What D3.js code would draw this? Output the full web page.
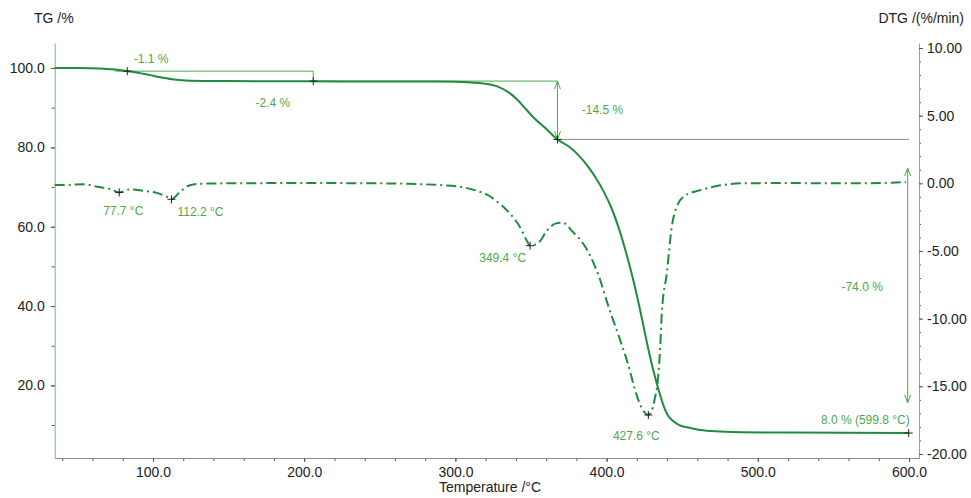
<!DOCTYPE html>
<html>
<head>
<meta charset="utf-8">
<script src="https://cdn.jsdelivr.net/npm/d3@7"></script>
<style>
  body { margin: 0; background: #fff; }
  svg { font-family: "Liberation Sans", Arial, sans-serif; }
  .tick text { fill: #222; font-size: 14px; }
  .tick line { stroke: #555; }
</style>
</head>
<body>
<div id="chart"></div>
<script>
// TG curve, temperature (°C) and mass (%)
const tgTemp = [35, 50, 65, 75, 83, 90, 98, 106, 114, 124, 150, 200, 250, 300, 312, 320, 328, 335, 341, 346, 352, 360, 367.5, 375, 382, 388, 393, 398, 403, 408, 413, 418, 423, 427, 431, 434, 437, 440, 444, 448, 455, 462, 475, 490, 520, 560, 600];
const tgMass = [100.0, 100.0, 99.9, 99.6, 99.2, 98.8, 98.2, 97.6, 97.1, 96.8, 96.7, 96.65, 96.6, 96.55, 96.3, 96.0, 95.3, 93.9, 92.0, 89.9, 87.4, 84.7, 82.0, 80.2, 77.8, 75.0, 72.2, 68.9, 64.9, 59.7, 53.3, 46.0, 37.5, 30.2, 23.6, 19.4, 15.6, 12.8, 11.0, 10.0, 9.3, 8.75, 8.4, 8.2, 8.1, 8.05, 8.0];

// DTG curve, temperature (°C) and rate (%/min)
const dtgTemp = [35, 40, 55, 63, 71.5, 77.7, 85, 93.5, 102, 109, 112.2, 118, 123, 131, 150, 200, 250, 290, 303, 316, 322, 327, 336, 342.6, 347, 349.4, 355.6, 360, 366.6, 371, 377.6, 386.5, 395.3, 401.5, 408.7, 414, 419.7, 424, 427.6, 429.5, 431.7, 433.9, 435.5, 436.5, 439.8, 443.1, 446.4, 452, 462, 473, 489, 520, 550, 580, 598];
const dtgRate = [-0.12, -0.13, -0.07, -0.25, -0.42, -0.67, -0.44, -0.55, -0.69, -0.99, -1.18, -0.62, -0.2, -0.03, 0, 0.02, 0, -0.13, -0.25, -0.62, -0.9, -1.3, -2.22, -3.21, -4.19, -4.61, -4.32, -3.58, -2.96, -2.91, -3.58, -4.8, -7.0, -9.2, -11.5, -13.3, -15.6, -16.76, -17.12, -16.9, -16.0, -14.5, -12.0, -9.6, -6.65, -3.21, -1.73, -0.9, -0.5, -0.2, 0, 0.02, 0, 0.02, 0.1];

// peak markers on DTG
const peakTemp = [77.7, 112.2, 349.4, 427.6];
const peakRate = [-0.67, -1.18, -4.61, -17.12];
const peakLabels = ["77.7 °C", "112.2 °C", "349.4 °C", "427.6 °C"];

// mass step markers on TG
const stepTemp = [83, 206, 367.5, 599.8];
const stepMass = [99.2, 96.7, 82.0, 8.0];

// step annotations: text and where it sits (°C, %)
const noteText = ["-1.1 %", "-2.4 %", "-14.5 %", "-74.0 %", "8.0 % (599.8 °C)"];
const noteTemp = [98.7, 179.3, 383.6, 569, 600.5];
const noteMass = [102.3, 91.2, 89.4, 44.8, 11.3];

// axis ticks
const xTicks = [100, 200, 300, 400, 500, 600];
const tgTicks = [20, 40, 60, 80, 100];
const dtgTicks = [-20, -15, -10, -5, 0, 5, 10];

const width = 971, height = 498;
const green = "#1f8b3d";
const noteGreen = "#4ea84e";
const axisGreen = "#6cbf72";

const svg = d3.select("#chart").append("svg")
  .attr("width", width)
  .attr("height", height);

const x = d3.scaleLinear().domain([35, 606.6]).range([54.7, 919]);
const yTG = d3.scaleLinear().domain([1.7, 106.3]).range([458, 43]);
const yDTG = d3.scaleLinear().domain([-20.3, 10.37]).range([458, 43]);

//minor ticks first
svg.append("g")
  .attr("transform", "translate(0,458)")
  .call(d3.axisBottom(x).tickValues(d3.range(40, 601, 20)).tickSize(3).tickFormat(""))
  .call(g => g.select(".domain").remove());
svg.append("g")
  .attr("transform", "translate(54.7,0)")
  .call(d3.axisLeft(yTG).tickValues(d3.range(10, 101, 10)).tickSize(3).tickFormat(""))
  .call(g => g.select(".domain").remove());
svg.append("g")
  .attr("transform", "translate(919,0)")
  .call(d3.axisRight(yDTG).tickValues(d3.range(-20, 11, 1)).tickSize(2).tickFormat(""))
  .call(g => g.select(".domain").remove());

// x axis
svg.append("g")
  .attr("transform", "translate(0,458)")
  .call(d3.axisBottom(x).tickValues(xTicks).tickSize(4).tickSizeOuter(0).tickPadding(5)
    .tickFormat(d => d.toFixed(1)))
  .call(g => g.select(".domain").attr("stroke", "#8a8a8a"));

// TG axis
svg.append("g")
  .attr("transform", "translate(54.7,0)")
  .call(d3.axisLeft(yTG).tickValues(tgTicks).tickSize(4).tickSizeOuter(0).tickPadding(6)
    .tickFormat(d => d.toFixed(1)))
  .call(g => g.select(".domain").attr("stroke", axisGreen));

// DTG axis
svg.append("g")
  .attr("transform", "translate(919,0)")
  .call(d3.axisRight(yDTG).tickValues(dtgTicks).tickSize(4).tickSizeOuter(0).tickPadding(4)
    .tickFormat(d => d.toFixed(2)))
  .call(g => g.select(".domain").attr("stroke", axisGreen));

// axis titles
svg.append("text").attr("x", 34).attr("y", 18).attr("dominant-baseline", "central")
  .style("font-size", "14px").attr("fill", "#222").text("TG /%");
svg.append("text").attr("x", 964).attr("y", 18).attr("dominant-baseline", "central")
  .attr("text-anchor", "end").style("font-size", "14px").attr("fill", "#222").text("DTG /(%/min)");
svg.append("text").attr("x", 490).attr("y", 487).attr("dominant-baseline", "central")
  .attr("text-anchor", "middle").style("font-size", "14px").attr("fill", "#222").text("Temperature /°C");

// step guide lines
const thin = svg.append("g").attr("fill", "none").attr("stroke-width", 1);
const seg = (g, pts, color) => g.append("path")
  .attr("d", d3.line()(pts.map(p => [x(p[0]), yTG(p[1])])))
  .attr("stroke", color);

seg(thin, [[75, stepMass[0]], [stepTemp[1], stepMass[0]], [stepTemp[1], stepMass[1]]], noteGreen);
seg(thin, [[stepTemp[1], stepMass[1]], [stepTemp[2], stepMass[1]]], noteGreen);
seg(thin, [[stepTemp[2], stepMass[2]], [600, stepMass[2]]], "#8a8a8a");

function arrow(t, v1, v2) {
  const xx = x(t), ya = yTG(v1), yb = yTG(v2);
  seg(thin, [[t, v1], [t, v2]], noteGreen);
  thin.append("path")
    .attr("d", `M${xx - 3},${ya + 8}L${xx},${ya}L${xx + 3},${ya + 8}M${xx - 3},${yb - 8}L${xx},${yb}L${xx + 3},${yb - 8}`)
    .attr("stroke", noteGreen);
}
arrow(stepTemp[2], stepMass[1], stepMass[2]);
arrow(599.1, 74.8, 15.6);

// DTG curve
svg.append("path")
  .datum(d3.zip(dtgTemp, dtgRate))
  .attr("fill", "none")
  .attr("stroke", green)
  .attr("stroke-width", 2)
  .attr("stroke-dasharray", "10,4,2,4")
  .attr("d", d3.line().x(d => x(d[0])).y(d => yDTG(d[1])).curve(d3.curveMonotoneX));

// TG curve
svg.append("path")
  .datum(d3.zip(tgTemp, tgMass))
  .attr("fill", "none")
  .attr("stroke", green)
  .attr("stroke-width", 2)
  .attr("d", d3.line().x(d => x(d[0])).y(d => yTG(d[1])).curve(d3.curveMonotoneX));

// + markers
function plus(px, py) {
  svg.append("path")
    .attr("d", `M${px - 4},${py}H${px + 4}M${px},${py - 4}V${py + 4}`)
    .attr("stroke", "#222").attr("stroke-width", 1);
}
stepTemp.forEach((t, i) => plus(x(t), yTG(stepMass[i])));
peakTemp.forEach((t, i) => plus(x(t), yDTG(peakRate[i])));

// peak labels
const peakOffset = [[4, 19, "middle"], [6, 13, "start"], [-4, 12, "end"], [-12, 21, "middle"]];
svg.selectAll(".peak")
  .data(peakLabels)
  .enter()
  .append("text")
  .attr("class", "peak")
  .attr("x", (d, i) => x(peakTemp[i]) + peakOffset[i][0])
  .attr("y", (d, i) => yDTG(peakRate[i]) + peakOffset[i][1])
  .attr("text-anchor", (d, i) => peakOffset[i][2])
  .attr("dominant-baseline", "central")
  .attr("fill", noteGreen)
  .style("font-size", "12px")
  .text(d => d);

// step labels
const noteAnchor = ["middle", "middle", "start", "middle", "end"];
svg.selectAll(".note")
  .data(noteText)
  .enter()
  .append("text")
  .attr("class", "note")
  .attr("x", (d, i) => x(noteTemp[i]))
  .attr("y", (d, i) => yTG(noteMass[i]))
  .attr("text-anchor", (d, i) => noteAnchor[i])
  .attr("dominant-baseline", "central")
  .attr("fill", noteGreen)
  .style("font-size", "12px")
  .text(d => d);
</script>
</body>
</html>
